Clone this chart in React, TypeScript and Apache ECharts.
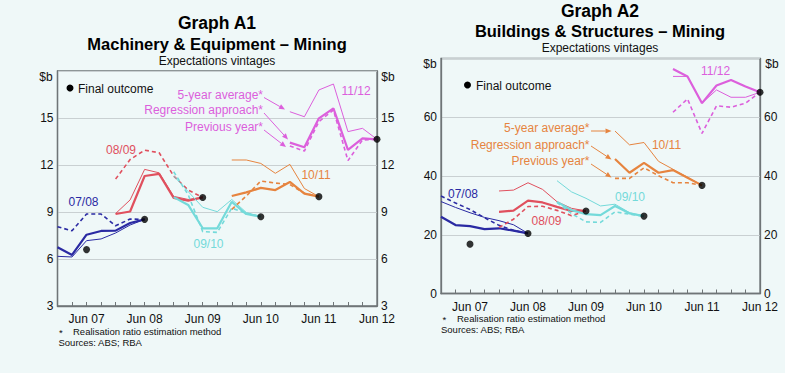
import React, { useEffect, useRef } from "react";
import * as echarts from "echarts";

// x index: 0 = Dec 06, 1 = Mar 07, ... 22 = Jun 12 (quarterly)
const junIndex = [2, 6, 10, 14, 18, 22];
const junLabels = ["Jun 07", "Jun 08", "Jun 09", "Jun 10", "Jun 11", "Jun 12"];
const vintages = ["07/08", "08/09", "09/10", "10/11", "11/12"];
const vintageStart = [0, 4, 8, 12, 16];
const vintageColors = ["#2a2aa3", "#e0505e", "#74dada", "#e6843f", "#dc5fdc"];

// Graph A1 – Machinery & Equipment ($b)
const a1Avg0708 = [6.17, 6.13, 7.17, 7.28, 7.66, 8.17, 8.53];
const a1Reg0708 = [6.75, 6.26, 7.55, 7.79, 7.81, 8.3, 8.53];
const a1Prev0708 = [8.06, 7.8, 8.87, 8.87, 8.12, 8.55, 8.53];
const a1Avg0809 = [8.9, 9.77, 11.72, 11.5, 10.0, 9.8, 9.93];
const a1Reg0809 = [8.87, 9.03, 11.3, 11.43, 9.9, 9.73, 9.93];
const a1Prev0809 = [11.1, 12.35, 12.95, 12.78, 11.3, 10.4, 9.93];
const a1Avg0910 = [11.3, 10.3, 9.3, 9.02, 9.8, 8.97, 8.7];
const a1Reg0910 = [9.95, 9.45, 7.96, 7.96, 9.65, 8.87, 8.7];
const a1Prev0910 = [11.57, 10.1, 7.75, 7.7, 9.25, 8.92, 8.7];
const a1Avg1011 = [12.32, 12.32, 12.1, 11.47, 12.04, 10.5, 9.98];
const a1Reg1011 = [10.02, 10.25, 10.54, 10.4, 10.92, 10.17, 9.98];
const a1Prev1011 = [9.17, 10.02, 10.98, 10.85, 10.75, 10.2, 9.98];
const a1Avg1112 = [15.4, 15.08, 16.79, 17.17, 14.13, 14.34, 13.64];
const a1Reg1112 = [13.43, 13.13, 14.98, 15.62, 12.96, 13.7, 13.64];
const a1Prev1112 = [13.21, 12.89, 14.77, 15.51, 12.28, 13.6, 13.64];
const a1Final = [6.6, 8.53, 9.93, 8.7, 9.98, 13.64];

// Graph A2 – Buildings & Structures ($b)
const a2Avg0708 = [31.3, 29.3, 27.5, 25.9, 24.8, 23.4, 20.45];
const a2Reg0708 = [26.1, 23.3, 22.95, 21.9, 22.2, 21.4, 20.45];
const a2Prev0708 = [33.2, 30.8, 28.6, 25.8, 23.2, 21.5, 20.45];
const a2Avg0809 = [34.9, 35.2, 37.7, 35.45, 31.25, 29.0, 28.1];
const a2Reg0809 = [27.8, 28.2, 31.6, 31.0, 29.5, 28.1, 28.1];
const a2Prev0809 = [22.5, 25.3, 29.6, 29.7, 28.3, 26.5, 28.1];
const a2Avg0910 = [38.4, 34.6, 32.4, 29.8, 30.4, 27.5, 26.35];
const a2Reg0910 = [31.2, 28.4, 27.0, 26.7, 29.8, 27.3, 26.35];
const a2Prev0910 = [31.0, 27.2, 24.4, 24.2, 27.8, 27.0, 26.35];
const a2Avg1011 = [55.3, 50.6, 51.4, 45.0, 42.3, 39.6, 36.8];
const a2Reg1011 = [45.8, 41.1, 44.5, 41.1, 42.0, 39.4, 36.8];
const a2Prev1011 = [39.2, 39.2, 42.8, 40.1, 37.7, 37.7, 36.8];
const a2Avg1112 = [73.9, 73.9, 64.8, 69.3, 66.8, 66.8, 68.5];
const a2Reg1112 = [76.4, 73.9, 64.8, 70.8, 72.7, 70.5, 68.5];
const a2Prev1112 = [61.7, 66.25, 54.5, 63.9, 63.4, 64.8, 68.5];
const a2Final = [16.8, 20.45, 28.1, 26.35, 36.8, 68.5];

const a1Avg = [a1Avg0708, a1Avg0809, a1Avg0910, a1Avg1011, a1Avg1112];
const a1Reg = [a1Reg0708, a1Reg0809, a1Reg0910, a1Reg1011, a1Reg1112];
const a1Prev = [a1Prev0708, a1Prev0809, a1Prev0910, a1Prev1011, a1Prev1112];
const a2Avg = [a2Avg0708, a2Avg0809, a2Avg0910, a2Avg1011, a2Avg1112];
const a2Reg = [a2Reg0708, a2Reg0809, a2Reg0910, a2Reg1011, a2Reg1112];
const a2Prev = [a2Prev0708, a2Prev0809, a2Prev0910, a2Prev1011, a2Prev1112];

const FONT = '"Liberation Sans", Arial, sans-serif';
const AXIS = "#6f7577";
const GRIDC = "#c9d0d2";

function txt(text: string, x: number, y: number, size: number, fill: string, align = "left", bold = false) {
  return {
    type: "text",
    x,
    y,
    z: 20,
    style: {
      text,
      fill,
      font: `${bold ? "bold " : ""}${size}px ${FONT}`,
      align,
      verticalAlign: "middle",
      textAlign: align,
      textVerticalAlign: "middle",
    },
  };
}

function arrow(x1: number, y1: number, x2: number, y2: number, color: string) {
  const a = Math.atan2(y2 - y1, x2 - x1);
  const L = 6;
  const W = 2.6;
  const bx = x2 - L * Math.cos(a);
  const by = y2 - L * Math.sin(a);
  return [
    { type: "line", z: 20, shape: { x1, y1, x2: bx, y2: by }, style: { stroke: color, lineWidth: 1 } },
    {
      type: "polygon",
      z: 20,
      shape: {
        points: [
          [x2, y2],
          [bx - W * Math.sin(a), by + W * Math.cos(a)],
          [bx + W * Math.sin(a), by - W * Math.cos(a)],
        ],
      },
      style: { fill: color },
    },
  ];
}

function buildSeries(g: number, avg: number[][], reg: number[][], prev: number[][], fin: number[]) {
  const out: any[] = [];
  vintages.forEach((v, k) => {
    const c = vintageColors[k];
    const toData = (arr: number[]) => arr.map((y, j) => [vintageStart[k] + j, y]);
    const base = { type: "line", xAxisIndex: g, yAxisIndex: g * 2, symbol: "none", z: 3, silent: true };
    out.push({ ...base, name: v + " avg", data: toData(avg[k]), lineStyle: { color: c, width: 1 } });
    out.push({ ...base, name: v + " prev", data: toData(prev[k]), lineStyle: { color: c, width: 1.6, type: [4, 3] } });
    out.push({ ...base, name: v + " reg", data: toData(reg[k]), lineStyle: { color: c, width: 2.2 } });
  });
  out.push({
    type: "scatter",
    xAxisIndex: g,
    yAxisIndex: g * 2,
    data: fin.map((y, j) => [junIndex[j], y]),
    symbolSize: 7,
    itemStyle: { color: "#000" },
    z: 6,
    clip: false,
    silent: true,
  });
  return out;
}

function xAxis(g: number) {
  return {
    type: "value",
    gridIndex: g,
    min: 0,
    max: 22,
    interval: 1,
    axisLine: { show: true, lineStyle: { color: AXIS, width: 1.3 } },
    axisTick: { show: true, inside: true, length: 4, lineStyle: { color: AXIS } },
    axisLabel: {
      show: true,
      margin: 7,
      fontFamily: FONT,
      fontSize: 12,
      color: "#111",
      formatter: (val: number) => {
        const i = junIndex.indexOf(val);
        return i >= 0 ? junLabels[i] : "";
      },
    },
    splitLine: { show: false },
  };
}

function yAxes(g: number, min: number, max: number, interval: number) {
  const common = {
    type: "value",
    gridIndex: g,
    min,
    max,
    interval,
    axisLine: { show: true, lineStyle: { color: AXIS, width: 1.3 } },
    axisTick: { show: false },
  };
  const fmt = (val: number) => (val === max ? "" : String(val));
  return [
    {
      ...common,
      position: "left",
      axisLabel: { margin: 4, fontFamily: FONT, fontSize: 12, color: "#111", formatter: fmt },
      splitLine: { show: true, lineStyle: { color: GRIDC, width: 1 } },
    },
    {
      ...common,
      position: "right",
      axisLabel: { margin: 4, fontFamily: FONT, fontSize: 12, color: "#111", formatter: fmt },
      splitLine: { show: false },
    },
  ];
}

export default function App() {
  const ref = useRef<HTMLDivElement>(null);
  useEffect(() => {
    if (!ref.current) return;
    const chart = echarts.init(ref.current, null, { renderer: "svg" });
    const mag = vintageColors[4];
    const ora = vintageColors[3];
    const graphic: any[] = [
      // titles
      txt("Graph A1", 217, 23, 17.5, "#000", "center", true),
      txt("Machinery & Equipment – Mining", 217, 43.5, 16.5, "#000", "center", true),
      txt("Expectations vintages", 217, 61, 12, "#111", "center"),
      txt("Graph A2", 600, 11, 17.5, "#000", "center", true),
      txt("Buildings & Structures – Mining", 600, 31, 16.5, "#000", "center", true),
      txt("Expectations vintages", 600, 48, 12, "#111", "center"),
      // units
      txt("$b", 46, 77, 12, "#111", "center"),
      txt("$b", 388, 77, 12, "#111", "center"),
      txt("$b", 430, 63.5, 12, "#111", "center"),
      txt("$b", 772, 63.5, 12, "#111", "center"),
      // legend
      { type: "circle", z: 20, shape: { cx: 70, cy: 88, r: 3.5 }, style: { fill: "#000" } },
      txt("Final outcome", 78, 88.5, 12, "#111"),
      { type: "circle", z: 20, shape: { cx: 467.5, cy: 85, r: 3.5 }, style: { fill: "#000" } },
      txt("Final outcome", 476, 85.5, 12, "#111"),
      // vintage labels A1
      txt("07/08", 83.5, 202, 12, vintageColors[0], "center"),
      txt("08/09", 121, 149.5, 12, vintageColors[1], "center"),
      txt("09/10", 208.5, 244, 12, vintageColors[2], "center"),
      txt("10/11", 316, 174.5, 12, vintageColors[3], "center"),
      txt("11/12", 356, 91, 12, vintageColors[4], "center"),
      // vintage labels A2
      txt("07/08", 463, 193.5, 12, vintageColors[0], "center"),
      txt("08/09", 546.5, 220.5, 12, vintageColors[1], "center"),
      txt("09/10", 630, 196.5, 12, vintageColors[2], "center"),
      txt("10/11", 666.5, 144.5, 12, vintageColors[3], "center"),
      txt("11/12", 715.5, 71, 12, vintageColors[4], "center"),
      // annotations A1
      txt("5-year average*", 263, 94.5, 12, mag, "right"),
      txt("Regression approach*", 263, 110, 12, mag, "right"),
      txt("Previous year*", 263, 127, 12, mag, "right"),
      ...arrow(264, 97.5, 285, 109.5, mag),
      ...arrow(264, 113, 288, 139.5, mag),
      ...arrow(264, 130, 286, 147, mag),
      // annotations A2
      txt("5-year average*", 589.5, 127.5, 12, ora, "right"),
      txt("Regression approach*", 589.5, 144.5, 12, ora, "right"),
      txt("Previous year*", 589.5, 161, 12, ora, "right"),
      ...arrow(591, 131, 611.5, 131, ora),
      ...arrow(591, 146, 611.5, 159.5, ora),
      ...arrow(591, 164, 611.5, 177.5, ora),
      // footnotes
      txt("*", 59, 332, 9.5, "#111"),
      txt("Realisation ratio estimation method", 73, 331.5, 9.5, "#111"),
      txt("Sources: ABS; RBA", 58.5, 342, 9.5, "#111"),
      txt("*", 442.5, 319, 9.5, "#111"),
      txt("Realisation ratio estimation method", 457, 318.5, 9.5, "#111"),
      txt("Sources: ABS; RBA", 441, 329.5, 9.5, "#111"),
    ];
    const option: any = {
      animation: false,
      backgroundColor: "transparent",
      textStyle: { fontFamily: FONT },
      grid: [
        { left: 57.5, right: 810 - 377, top: 71, bottom: 373 - 306, show: true, borderColor: AXIS, borderWidth: 1.3, backgroundColor: "transparent" },
        { left: 441, right: 810 - 760, top: 58.5, bottom: 373 - 293.5, show: true, borderColor: AXIS, borderWidth: 1.3, backgroundColor: "transparent" },
      ],
      xAxis: [xAxis(0), xAxis(1)],
      yAxis: [...yAxes(0, 3, 18, 3), ...yAxes(1, 0, 80, 20)],
      series: [...buildSeries(0, a1Avg, a1Reg, a1Prev, a1Final), ...buildSeries(1, a2Avg, a2Reg, a2Prev, a2Final)],
      graphic,
    };
    chart.setOption(option);
    return () => chart.dispose();
  }, []);
  return (
    <div
      style={{
        position: "fixed",
        left: 0,
        top: 0,
        width: 810,
        height: 373,
        background: "linear-gradient(to right, #eff8f8 0px, #eff8f8 785px, #ffffff 785px)",
      }}
    >
      <div ref={ref} style={{ width: 810, height: 373 }} />
    </div>
  );
}
